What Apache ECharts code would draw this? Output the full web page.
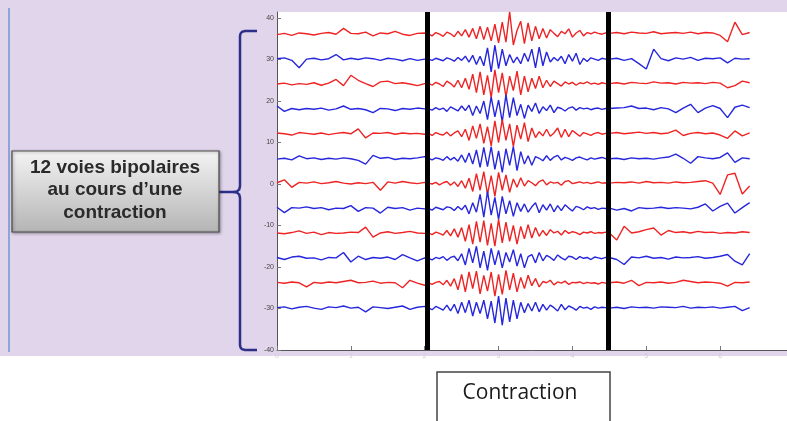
<!DOCTYPE html>
<html>
<head>
<meta charset="utf-8">
<script src="https://cdn.jsdelivr.net/npm/echarts@6/dist/echarts.min.js"></script>
<style>html,body{margin:0;padding:0;background:#fff;}#c{width:787px;height:421px;}</style>
</head>
<body>
<div id="c"></div>
<script>
// sample times (x axis units)
const times = [0,0.1,0.2,0.3,0.4,0.5,0.6,0.7,0.8,0.9,1.0,1.1,1.2,1.3,1.4,1.5,1.6,1.7,1.8,1.9,2.0,
2.05,2.1,2.15,2.2,2.25,2.3,2.35,2.4,2.45,2.5,
2.55,2.6,2.65,2.7,2.75,2.8,2.85,2.9,2.95,3.0,
3.05,3.1,3.15,3.2,3.25,3.3,3.35,3.4,3.45,3.5,
3.55,3.6,3.65,3.7,3.75,3.8,3.85,3.9,3.95,4.0,
4.05,4.1,4.15,4.2,4.25,4.3,4.35,4.4,4.45,
4.5,4.6,4.7,4.8,4.9,5.0,5.1,5.2,5.3,5.4,5.5,5.6,5.7,5.8,5.9,6.0,6.1,6.2,6.3,6.4];

// channel baselines
const offsets = [36,30,24,18,12,6,0,-6,-12,-18,-24,-30];
const colors = ['red','blue','red','blue','red','blue','red','blue','red','blue','red','blue'];

// channel deviations from baseline
const ch1 = [0,0.3,-0.2,0.4,0.2,-0.1,0.3,0.5,0.1,1.5,0.3,0.2,0.6,-0.3,0.4,0.2,0.8,0.1,-0.2,0.3,0.4,
0.2,-0.3,0.5,0.1,-0.4,0.6,0.2,-0.5,0.8,-0.3,1.2,-0.6,1.5,-1.0,2.0,-1.2,1.8,-1.5,2.5,-2.0,3.0,-1.8,5.5,-2.5,1.0,3.2,-2.2,2.8,-1.5,2.0,-1.0,1.5,-0.8,1.2,0.3,-0.5,0.8,0.2,1.4,-0.6,0.4,1.0,-0.3,0.5,0.2,0.6,0.3,0.1,0.4,
0.3,0.5,0.2,0.6,0.4,0.3,0.7,0.2,0.4,0.5,0.3,0.6,0.2,0.5,0.4,-0.2,-1.7,3.0,0.0,0.5];
const ch2 = [0.2,0.4,-0.2,-2.0,0.1,0.3,-0.1,0.2,1.2,-0.1,0.3,0.0,0.4,0.2,-0.2,0.3,0.1,-0.3,0.2,-0.2,0.1,
0.1,-0.2,0.3,0.0,-0.3,0.4,0.1,-0.4,0.5,-0.2,0.8,-0.6,1.0,-1.2,0.8,-1.5,2.8,-3.0,3.5,-2.2,2.5,-1.5,1.2,-0.8,0.6,-1.0,1.5,-0.5,2.5,-2.0,3.0,-1.5,1.8,-0.6,0.5,-0.3,0.8,-1.0,1.2,-0.4,1.5,-1.2,0.3,-0.5,0.4,0.1,-0.2,0.3,0.1,
0.1,0.3,-0.2,0.2,-1.0,-2.3,2.5,0.2,-0.3,0.4,0.1,0.5,-0.2,0.3,0.2,0.4,-0.8,0.3,0.1,0.2];
const ch3 = [0.1,0.3,-0.1,0.2,0.0,0.4,-0.2,0.3,1.2,-0.3,2.2,1.0,0.2,-0.5,0.6,0.8,0.2,0.4,0.1,-0.3,0.2,
0.3,-0.2,0.5,0.1,-0.5,0.8,0.2,-0.6,1.0,-0.8,1.5,-1.2,2.5,-2.0,3.0,-2.5,2.2,-3.2,3.5,-2.0,2.8,-3.0,2.0,-1.5,3.2,-2.5,2.0,-1.8,1.5,-1.0,2.0,-0.8,1.0,-0.5,0.8,0.2,-0.4,0.6,0.1,0.5,-0.2,0.4,0.2,0.6,0.1,0.3,0.0,0.4,0.2,
0.2,0.4,0.1,0.5,0.3,0.2,0.6,0.3,0.4,0.1,0.5,0.3,0.4,0.2,0.5,0.3,-0.8,-0.3,0.8,0.4];
const ch4 = [0.8,-0.5,0.2,-0.1,0.2,0.0,0.3,-0.2,0.1,0.8,0.0,0.2,-0.1,-0.8,0.2,0.1,-0.3,0.2,0.0,0.3,0.1,
0.1,-0.2,0.4,-0.1,0.3,-0.5,0.6,0.1,-0.4,0.8,-0.3,1.0,-1.5,0.8,-1.0,2.0,-2.5,3.0,-1.8,2.2,-3.0,3.5,-2.0,2.8,-1.5,1.2,-2.2,1.0,-0.5,1.5,-1.0,0.6,-0.3,1.0,-0.8,0.5,0.2,-0.4,0.3,0.6,-0.2,0.4,0.1,0.3,-0.1,0.2,0.3,0.0,0.2,
0.2,0.3,0.4,0.8,0.2,0.3,-0.1,0.4,0.1,-0.8,0.3,1.2,-0.8,0.3,0.9,0.2,-2.0,0.5,1.0,0.4];
const ch5 = [0.3,0.1,-0.2,0.4,0.2,0.0,0.3,-0.1,0.2,0.4,0.1,1.3,-0.9,0.3,0.2,0.4,0.0,0.3,0.1,0.2,0.0,
0.2,-0.3,0.4,0.0,-0.2,0.5,-0.4,0.3,0.8,-0.6,1.2,-1.5,2.0,-1.0,2.5,-2.2,1.8,-2.8,3.2,-2.0,3.5,-1.5,2.5,-3.0,2.2,-1.2,2.8,-1.8,1.5,-0.8,0.6,-0.4,1.2,-0.5,0.3,1.5,-0.8,1.2,-0.6,0.9,0.2,-0.5,0.4,0.1,-0.3,0.2,0.4,0.0,0.2,
0.2,0.4,0.1,0.3,0.5,0.2,0.4,0.1,0.3,1.0,-0.3,0.2,0.4,0.1,0.3,-0.2,-1.0,0.8,-0.4,0.3];
const ch6 = [0.0,0.2,-0.2,0.8,0.1,0.3,-0.1,0.2,0.0,0.3,0.1,-0.3,-1.2,0.9,0.2,0.4,-0.1,0.2,0.1,0.3,0.6,
0.2,-0.2,0.3,0.1,-0.3,0.6,-0.2,0.4,-0.5,1.0,-0.8,1.5,-1.2,2.2,-2.0,2.8,-1.8,3.0,-2.5,2.0,-3.2,2.5,-1.5,3.0,-2.8,1.8,-1.2,0.8,-1.5,0.6,0.2,-0.4,0.8,-0.3,0.5,0.9,-0.2,0.4,0.1,-0.3,0.3,0.5,0.1,-0.2,0.3,0.0,0.2,0.4,0.1,
0.1,0.2,-0.1,0.3,0.1,0.2,0.0,0.3,0.5,1.2,0.2,-1.0,0.6,0.3,0.1,0.4,1.5,-0.8,0.3,0.1];
const ch7 = [0.3,1.0,-0.8,0.4,0.2,0.5,0.1,0.3,0.6,0.2,0.0,0.3,0.1,0.4,-1.5,0.5,0.2,0.6,0.3,0.1,0.4,
0.2,0.0,0.4,-0.2,0.3,0.6,-0.3,0.5,-0.6,0.8,-1.0,1.4,-1.8,2.5,-1.5,3.0,-2.5,2.0,-3.0,2.8,-1.5,2.2,-2.0,1.2,-0.8,1.5,-0.5,0.8,0.3,-0.4,0.6,1.0,-0.2,0.5,0.2,0.4,-0.3,0.6,0.8,0.1,0.3,0.5,0.2,0.4,0.1,0.3,0.5,0.2,0.3,
0.2,0.4,0.3,0.5,0.2,0.6,0.3,0.4,0.2,0.5,0.3,0.4,0.6,0.8,0.2,-2.5,2.2,2.6,-2.4,-0.5];
const ch8 = [0.4,-0.9,0.3,0.2,0.5,0.1,0.3,-0.2,0.2,0.1,0.8,-0.6,0.3,0.2,-1.0,0.4,0.1,0.3,-0.3,0.2,0.0,
0.1,-0.3,0.4,0.1,-0.2,0.5,0.3,-0.4,0.6,-0.2,0.9,-1.2,1.5,-0.8,3.5,-2.0,4.2,-1.5,2.8,-2.5,3.0,-1.2,2.0,-1.8,1.5,-0.6,1.2,-0.8,0.5,1.5,-0.9,1.0,-0.3,1.2,-0.7,0.8,-0.4,1.0,0.2,-0.5,0.6,0.3,-0.2,0.5,0.1,0.3,-0.1,0.2,0.1,
0.2,-0.3,0.1,-0.5,0.3,0.1,0.2,0.4,0.1,0.3,0.2,0.0,0.4,1.2,-0.5,0.6,1.4,-1.0,0.3,1.5];
const ch9 = [0.2,0.0,0.3,0.7,0.1,0.4,-0.2,0.3,0.1,0.2,0.4,0.3,1.6,-0.8,0.2,0.5,0.1,0.3,0.6,0.2,0.1,
0.2,-0.2,0.4,0.1,-0.3,0.8,-0.5,1.2,-0.8,1.5,-1.8,2.2,-2.5,3.0,-2.0,3.2,-2.8,2.5,-3.0,3.5,-2.2,2.8,-1.8,2.0,-2.5,1.8,-1.2,2.2,-1.0,1.5,-0.6,0.8,-0.4,1.0,0.2,0.6,-0.3,0.8,0.1,0.5,0.3,-0.2,0.4,0.2,0.5,0.1,0.3,0.2,0.4,
0.2,-1.5,1.8,0.2,0.5,1.0,1.4,-0.3,0.8,0.3,0.5,0.2,0.6,0.3,0.4,0.1,0.3,0.2,0.5,0.3];
const ch10 = [0.3,-0.2,0.4,0.6,0.1,0.2,-0.3,0.3,0.2,1.5,-0.8,0.6,-0.2,0.3,0.1,0.4,-0.2,1.0,0.2,-0.5,0.2,
0.1,-0.3,0.3,0.0,0.5,-0.4,0.3,0.6,-0.5,1.2,-1.5,2.5,-1.0,3.0,-2.2,1.8,-2.8,2.5,-1.5,2.0,-2.2,1.5,-0.8,2.2,-1.8,1.2,-2.2,0.5,1.0,-1.0,1.5,-0.5,0.8,0.3,-0.4,0.9,0.2,-0.3,0.6,0.4,-0.2,0.5,0.1,0.3,-0.2,0.4,0.2,0.0,0.3,
0.3,-0.2,-1.4,0.4,0.2,0.6,0.1,0.3,-0.1,0.4,0.2,0.3,0.5,0.1,0.3,0.6,1.0,-0.6,-1.5,1.2];
const ch11 = [0.3,0.1,0.4,0.2,-0.8,0.3,0.1,0.4,0.2,0.5,0.8,0.2,0.3,0.6,0.1,0.3,0.2,-1.0,0.8,0.1,-0.4,
0.2,-0.2,0.3,0.5,-0.3,0.8,-0.6,1.2,-1.5,2.2,-2.0,2.8,-1.2,3.0,-2.5,2.0,-1.8,2.8,-3.0,2.2,-2.6,3.2,-1.5,2.5,-2.0,1.5,-1.2,2.0,-0.5,1.2,-0.8,0.5,0.2,0.8,-0.3,0.4,0.1,0.6,-0.2,0.3,0.2,0.4,0.0,0.3,0.1,0.2,-0.1,0.3,0.1,
0.2,0.4,0.1,0.8,-0.5,0.3,0.2,0.4,0.1,0.3,0.8,0.5,0.2,0.4,0.3,0.1,-0.6,0.3,0.2,0.4];
const ch12 = [0.2,0.4,-0.1,0.3,0.5,0.1,-0.2,0.4,0.2,0.6,0.1,0.3,-0.8,0.4,0.2,0.0,0.3,0.6,-0.2,0.3,0.5,
0.2,-0.3,0.5,0.1,-0.4,0.8,-0.6,1.0,-1.2,1.5,-1.0,2.0,-1.8,1.5,-1.2,2.0,-2.5,1.8,-3.5,3.0,-4.0,2.5,-3.2,2.0,-2.5,1.5,-1.0,1.2,-0.6,1.5,-0.8,1.0,-0.4,0.8,0.2,-0.6,1.0,-0.3,0.6,0.2,-0.4,0.5,0.1,0.3,-0.2,0.4,0.1,0.3,0.2,
0.1,0.3,0.0,0.4,0.2,0.3,0.1,0.4,0.3,0.2,0.5,0.1,0.3,0.2,0.4,0.1,0.3,0.5,-0.5,0.2];

// contraction boundaries (x axis units)
const contractionMarks = [2.033, 4.485];
// tick labels
const yTicks = [-40,-30,-20,-10,0,10,20,30,40];

const channels = [ch1,ch2,ch3,ch4,ch5,ch6,ch7,ch8,ch9,ch10,ch11,ch12];
channels.forEach((c,i)=>{ if(c.length!==times.length) throw new Error('ch'+(i+1)+' length '+c.length); });

const RED = '#ee2424', BLUE = '#2626dc';
const series = channels.map((dev,i)=>({
  type:'line', silent:true, symbol:'none', z:2,
  lineStyle:{color: colors[i]==='red'?RED:BLUE, width:1.4},
  data: times.map((t,k)=>[t, offsets[i]+dev[k]])
}));
series.push({
  type:'line', data:[], z:6, silent:true,
  markLine:{silent:true, symbol:['none','none'], z:6, label:{show:false},
    lineStyle:{color:'#000', width:5, type:'solid'},
    data: contractionMarks.map(v=>({xAxis:v}))}
});

const braceTop = [[257,31],[245,31],[242,31.8],[240.6,33.5],[240,36],[240,186],[239.3,189.3],[237,191.4],[233.5,192],[219,192]];
const braceBottom = [[233.5,192],[237,192.6],[239.3,194.7],[240,198],[240,345],[240.6,347.6],[242,349.2],[245,350],[257,350]];

const chart = echarts.init(document.getElementById('c'), null, {renderer:'canvas'});
chart.setOption({
  backgroundColor:'#fff',
  animation:false,
  grid:{left:277, top:12, width:517, height:338, containLabel:false, outerBoundsMode:'none'},
  xAxis:{type:'value', min:0, max:7, interval:1,
    axisLine:{onZero:false, lineStyle:{color:'#555', width:1}},
    axisTick:{inside:true, length:4, lineStyle:{color:'#777'}},
    axisLabel:{color:'#d2cadb', fontSize:7, margin:3, fontFamily:'Liberation Sans'},
    splitLine:{show:false}},
  yAxis:{type:'value', min:-40, max:41.45, interval:10,
    axisLine:{show:true, onZero:false, lineStyle:{color:'#555', width:1}},
    axisTick:{show:true, inside:true, length:4, lineStyle:{color:'#777'}},
    axisLabel:{color:'#444', fontSize:7, margin:3, showMaxLabel:false, fontFamily:'Liberation Sans',
      formatter:v=> yTicks.indexOf(v)>=0 ? String(v) : ''},
    splitLine:{show:false}},
  graphic:{elements:[
    {type:'rect', z:-20, silent:true, shape:{x:0,y:0,width:787,height:356}, style:{fill:'#e1d5eb'}},
    {type:'rect', z:-19, silent:true, shape:{x:277,y:12,width:510,height:338}, style:{fill:'#ffffff'}},
    {type:'line', z:50, silent:true, shape:{x1:9,y1:8,x2:9,y2:352}, style:{stroke:'#8fa3d6', lineWidth:2}},
    {type:'polyline', z:50, silent:true, shape:{points:braceTop}, style:{stroke:'#2d2f88', lineWidth:2.5, fill:null}},
    {type:'polyline', z:50, silent:true, shape:{points:braceBottom}, style:{stroke:'#2d2f88', lineWidth:2.5, fill:null}},
    {type:'rect', z:50, silent:true, shape:{x:12,y:151,width:207,height:81},
      style:{fill:{type:'linear', x:0, y:0, x2:0, y2:1, colorStops:[{offset:0,color:'#f4f4f4'},{offset:1,color:'#b4b4b4'}]},
        stroke:'#4a4a4a', lineWidth:1.2, shadowBlur:3, shadowColor:'rgba(0,0,0,0.35)', shadowOffsetX:1, shadowOffsetY:1}},
    {type:'text', z:51, silent:true, x:115, y:190,
      style:{text:'12 voies bipolaires\nau cours d\u2019une\ncontraction', fill:'#2a2a2a',
        font:'bold 19px "Liberation Sans", Arial, sans-serif', lineHeight:22.5, align:'center', verticalAlign:'middle'}},
    {type:'rect', z:50, silent:true, shape:{x:437,y:372,width:173,height:60}, style:{fill:'#fff', stroke:'#444', lineWidth:1.5}},
    {type:'text', z:51, silent:true, x:520, y:393,
      style:{text:'Contraction', fill:'#1a1a1a', font:'21px "Open Sans", sans-serif', align:'center', verticalAlign:'middle'}}
  ]},
  series: series
});
</script>
</body>
</html>
